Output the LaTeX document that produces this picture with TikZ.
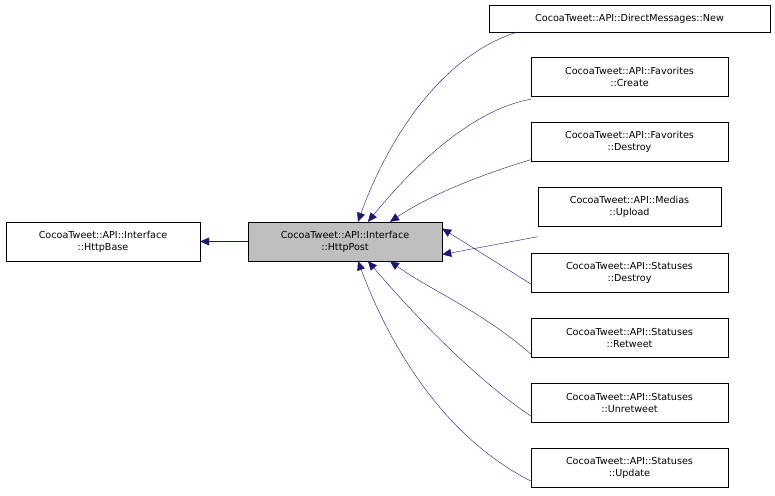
\documentclass[tikz,border=0pt]{standalone}
\usepackage{fontspec}
\setmainfont{DejaVu Sans}
\usetikzlibrary{arrows.meta}
\definecolor{edgeblue}{HTML}{191970}
\tikzset{
  cls/.style={draw=black,fill=white,inner sep=0pt,align=center,font=\fontsize{9.6}{12}\selectfont,minimum height=39pt,minimum width=197pt},
  edge/.style={draw=edgeblue,-{Triangle[length=9pt,width=8pt,fill=edgeblue]}}
}
\begin{document}
\begin{tikzpicture}[x=1pt,y=-1pt]
\useasboundingbox (0,0) rectangle (775,495);
% base classes
\node[cls,minimum width=194pt] (base) at (103,241.5) {CocoaTweet::API::Interface\\::HttpBase};
\node[cls,minimum width=194pt,fill=black!25] (post) at (345,241.5) {CocoaTweet::API::Interface\\::HttpPost};
% derived classes
\node[cls,minimum width=281pt,minimum height=27pt] (dmnew) at (629.5,18.5) {CocoaTweet::API::DirectMessages::New};
\node[cls] (favcreate) at (629.5,76.5) {CocoaTweet::API::Favorites\\::Create};
\node[cls] (favdestroy) at (629.5,142) {CocoaTweet::API::Favorites\\::Destroy};
\node[cls,minimum width=183pt] (upload) at (629.5,207) {CocoaTweet::API::Medias\\::Upload};
\node[cls] (stdestroy) at (629.5,273) {CocoaTweet::API::Statuses\\::Destroy};
\node[cls] (retweet) at (629.5,338) {CocoaTweet::API::Statuses\\::Retweet};
\node[cls] (unretweet) at (629.5,403) {CocoaTweet::API::Statuses\\::Unretweet};
\node[cls] (update) at (629.5,468) {CocoaTweet::API::Statuses\\::Update};

% inheritance
\draw[edge] (post) -- (base);
\draw[edge] ([xshift=28pt]dmnew.south west) .. controls (430,60) and (380,160) .. ([xshift=13pt]post.north);
\draw[edge] ([yshift=-3pt]favcreate.south west) .. controls (470,110) and (410,170) .. ([xshift=23pt]post.north);
\draw[edge] ([yshift=2pt]favdestroy.south west) .. controls (480,175) and (430,195) .. ([xshift=45pt]post.north);
\draw[edge] ([yshift=-10pt]upload.south west) -- ([yshift=-13pt]post.east);
\draw[edge] ([yshift=-11pt]stdestroy.west) -- ([yshift=13pt]post.east);
\draw[edge] ([yshift=-16pt]retweet.west) .. controls (480,310) and (430,290) .. ([xshift=45pt]post.south);
\draw[edge] ([yshift=-13pt]unretweet.west) .. controls (470,375) and (410,310) .. ([xshift=23pt]post.south);
\draw[edge] ([yshift=-13pt]update.west) .. controls (430,430) and (380,320) .. ([xshift=13pt]post.south);
\end{tikzpicture}
\end{document}
